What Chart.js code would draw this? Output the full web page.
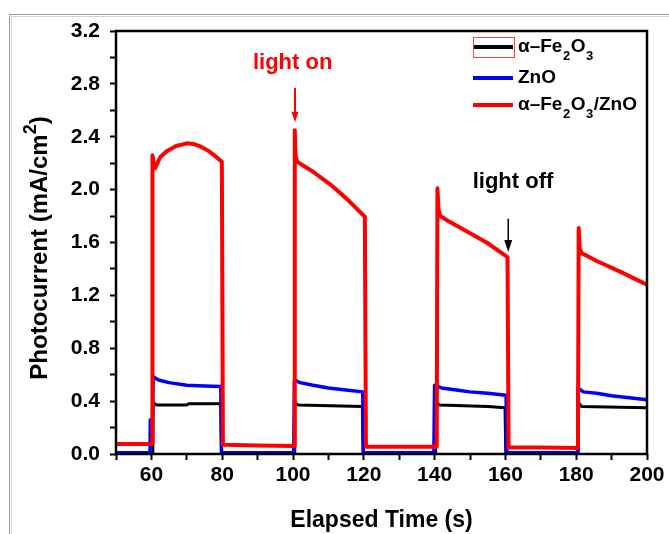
<!DOCTYPE html>
<html>
<head>
<meta charset="utf-8">
<script src="https://cdn.jsdelivr.net/npm/chart.js@4.4.1/dist/chart.umd.min.js"></script>
<style>
  body { margin: 0; background: #fff; }
  #wrap { position: relative; width: 669px; height: 534px; }
</style>
</head>
<body>
<div id="wrap"><canvas id="photo" width="669" height="534"></canvas></div>
<script>
// values (time in s, current in mA/cm2)
const fe2o3Time = [50, 60.4, 60.5, 61.5, 70, 70.5, 79.6, 79.8, 100.4, 100.5, 101.5, 119.6, 119.8,
  140.2, 140.3, 141.5, 155, 159.9, 160.1, 180.5, 180.6, 181.5, 200];
const fe2o3Current = [0.005, 0.005, 0.39, 0.37, 0.37, 0.38, 0.38, 0.005, 0.005, 0.39, 0.37, 0.36, 0.005,
  0.005, 0.39, 0.37, 0.36, 0.35, 0.005, 0.005, 0.39, 0.36, 0.35];

const znoTime = [50, 59.6, 59.7, 60.3, 60.5, 62, 65, 70, 75, 79.6, 79.8,
  100.2, 100.4, 102, 105.7, 110, 115, 119.7, 119.9,
  139.8, 140.0, 142, 147.2, 150, 155, 160.2, 160.4,
  180.3, 180.5, 182, 185.8, 190, 195, 200];
const znoCurrent = [0.01, 0.01, 0.26, 0.26, 0.585, 0.56, 0.54, 0.52, 0.515, 0.51, 0.01,
  0.01, 0.56, 0.54, 0.52, 0.5, 0.485, 0.47, 0.01,
  0.01, 0.52, 0.5, 0.48, 0.47, 0.46, 0.445, 0.01,
  0.01, 0.5, 0.47, 0.46, 0.44, 0.425, 0.41];

const hybridTime = [50, 60.2, 60.3, 60.7, 61.0, 62.5, 64.3, 67, 70, 72, 74, 76, 78, 79.9, 80.2, 90,
  100.3, 100.5, 100.7, 101.2, 105.7, 110.5, 115.2, 120.3, 120.6, 130,
  140.6, 140.8, 141.1, 141.6, 144, 148, 154.7, 160.6, 160.9, 170,
  180.5, 180.7, 181.0, 181.5, 185.8, 192.4, 200];
const hybridCurrent = [0.075, 0.075, 2.26, 2.19, 2.16, 2.245, 2.29, 2.33, 2.35, 2.345, 2.325, 2.295, 2.255, 2.21, 0.07, 0.065,
  0.06, 2.45, 2.26, 2.21, 2.135, 2.04, 1.93, 1.795, 0.055, 0.055,
  0.055, 2.01, 1.85, 1.80, 1.76, 1.70, 1.60, 1.49, 0.05, 0.05,
  0.045, 1.71, 1.56, 1.52, 1.46, 1.38, 1.28];

const seriesLabels = ['α–Fe_2O_3', 'ZnO', 'α–Fe_2O_3/ZnO'];
const seriesColors = ['#000000', '#0000ff', '#ff0000'];

const FONT = "'Liberation Sans', Arial, sans-serif";

function points(xs, ys) {
  return xs.map((x, i) => ({ x: x, y: ys[i] }));
}

// text with single-char subscripts marked by "_"
function drawRich(ctx, str, x, y, size) {
  let cx = x;
  for (let i = 0; i < str.length; i++) {
    if (str[i] === '_') {
      i++;
      ctx.font = `bold ${Math.round(size * 0.68)}px ${FONT}`;
      ctx.fillText(str[i], cx + 0.5, y + size * 0.5);
      cx += ctx.measureText(str[i]).width + 1;
    } else {
      ctx.font = `bold ${size}px ${FONT}`;
      ctx.fillText(str[i], cx, y);
      cx += ctx.measureText(str[i]).width;
    }
  }
}

function arrow(ctx, x, yTop, yTip, color, width, head) {
  ctx.strokeStyle = color;
  ctx.fillStyle = color;
  ctx.lineWidth = width;
  ctx.beginPath();
  ctx.moveTo(x, yTop);
  ctx.lineTo(x, yTip - head * 1.2);
  ctx.stroke();
  ctx.beginPath();
  ctx.moveTo(x - head / 2, yTip - head * 1.5);
  ctx.lineTo(x + head / 2, yTip - head * 1.5);
  ctx.lineTo(x, yTip);
  ctx.closePath();
  ctx.fill();
}

const overlay = {
  id: 'overlay',
  beforeDraw(chart) {
    // grey frame round the figure
    const ctx = chart.ctx;
    ctx.save();
    ctx.lineWidth = 1;
    ctx.strokeStyle = '#9a9a9a';
    ctx.beginPath(); ctx.moveTo(9.5, 534); ctx.lineTo(9.5, 14.5); ctx.lineTo(669, 14.5); ctx.stroke();
    ctx.strokeStyle = '#d2d2d2';
    ctx.beginPath(); ctx.moveTo(11.5, 534); ctx.lineTo(11.5, 16.5); ctx.lineTo(669, 16.5); ctx.stroke();
    ctx.restore();
  },
  afterDraw(chart) {
    const { ctx, chartArea: a, scales: { x, y } } = chart;
    ctx.save();

    // axis box
    ctx.lineWidth = 2.5;
    ctx.strokeStyle = '#000';
    ctx.strokeRect(a.left, a.top, a.right - a.left, a.bottom - a.top);

    // axis titles
    ctx.fillStyle = '#000';
    ctx.textBaseline = 'alphabetic';
    ctx.textAlign = 'center';
    ctx.font = `bold 23px ${FONT}`;
    ctx.fillText('Elapsed Time (s)', (a.left + a.right) / 2, 527);

    ctx.save();
    ctx.translate(47, 248);
    ctx.rotate(-Math.PI / 2);
    ctx.textAlign = 'left';
    const main = 'Photocurrent (mA/cm';
    ctx.font = `bold 24px ${FONT}`;
    const w1 = ctx.measureText(main).width;
    const w3 = ctx.measureText(')').width;
    ctx.font = `bold 18px ${FONT}`;
    const w2 = ctx.measureText('2').width;
    let sx = -(w1 + w2 + w3) / 2;
    ctx.font = `bold 24px ${FONT}`;
    ctx.fillText(main, sx, 0);
    ctx.font = `bold 18px ${FONT}`;
    ctx.fillText('2', sx + w1, -11);
    ctx.font = `bold 24px ${FONT}`;
    ctx.fillText(')', sx + w1 + w2, 0);
    ctx.restore();

    // legend
    ctx.textAlign = 'left';
    ctx.textBaseline = 'middle';
    const rows = [47, 78, 105];
    seriesLabels.forEach((lab, i) => {
      ctx.strokeStyle = seriesColors[i];
      ctx.lineWidth = 4;
      ctx.beginPath();
      ctx.moveTo(473, rows[i]);
      ctx.lineTo(513, rows[i]);
      ctx.stroke();
      ctx.fillStyle = '#000';
      drawRich(ctx, lab, 518, rows[i], 19);
    });
    ctx.strokeStyle = '#ff4040';
    ctx.lineWidth = 1;
    ctx.strokeRect(473.5, 37.5, 41, 20);

    // light on / light off notes
    ctx.textAlign = 'center';
    ctx.textBaseline = 'alphabetic';
    ctx.font = `bold 22px ${FONT}`;
    ctx.fillStyle = '#ff0000';
    ctx.fillText('light on', x.getPixelForValue(99.9), y.getPixelForValue(2.916));
    arrow(ctx, x.getPixelForValue(100.56), y.getPixelForValue(2.77), y.getPixelForValue(2.51), '#ff0000', 2, 7);
    ctx.fillStyle = '#000';
    ctx.fillText('light off', x.getPixelForValue(162.15), y.getPixelForValue(2.01));
    arrow(ctx, x.getPixelForValue(160.8), y.getPixelForValue(1.78), y.getPixelForValue(1.528), '#000', 1.5, 8);

    ctx.restore();
  }
};

const datasets = [
  { label: seriesLabels[0], data: points(fe2o3Time, fe2o3Current), borderColor: seriesColors[0], borderWidth: 3, order: 3 },
  { label: seriesLabels[1], data: points(znoTime, znoCurrent), borderColor: seriesColors[1], borderWidth: 3.5, order: 2 },
  { label: seriesLabels[2], data: points(hybridTime, hybridCurrent), borderColor: seriesColors[2], borderWidth: 4, order: 1 }
];

const ctx = document.getElementById('photo').getContext('2d');
new Chart(ctx, {
  type: 'line',
  data: { datasets: datasets },
  options: {
    responsive: false,
    animation: false,
    devicePixelRatio: 1,
    layout: { padding: { top: 31, right: 22, left: 0, bottom: 0 } },
    elements: {
      point: { radius: 0 },
      line: { tension: 0, fill: false, borderJoinStyle: 'round' }
    },
    plugins: {
      legend: { display: false },
      tooltip: { enabled: false }
    },
    scales: {
      x: {
        type: 'linear',
        min: 50,
        max: 200,
        afterFit: s => { s.height = 80; },
        border: { display: false },
        grid: { drawOnChartArea: false, drawTicks: true, tickLength: 6, tickWidth: 2, color: '#000' },
        ticks: {
          stepSize: 10,
          autoSkip: false,
          maxRotation: 0,
          padding: 3,
          color: '#000',
          font: { family: FONT, size: 21, weight: 'bold' },
          callback: v => (v % 20 === 0 ? String(v) : '')
        }
      },
      y: {
        min: 0,
        max: 3.2,
        afterFit: s => { s.width = 116; },
        border: { display: false },
        grid: { drawOnChartArea: false, drawTicks: true, tickLength: 6, tickWidth: 2, color: '#000' },
        ticks: {
          stepSize: 0.2,
          autoSkip: false,
          padding: 10,
          color: '#000',
          font: { family: FONT, size: 21, weight: 'bold' },
          callback: v => (Math.round(v * 10) % 4 === 0 ? v.toFixed(1) : '')
        }
      }
    }
  },
  plugins: [overlay]
});
</script>
</body>
</html>
